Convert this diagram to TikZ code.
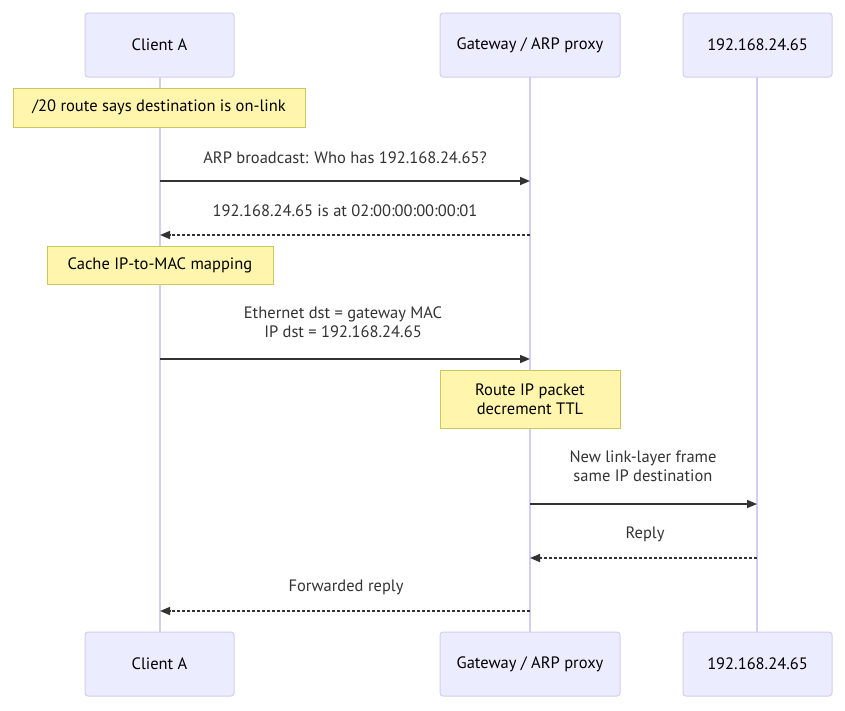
\documentclass[tikz,border=0pt]{standalone}
\usepackage{fontspec}
\setmainfont{PT Sans}
\usetikzlibrary{arrows.meta}
\definecolor{actfill}{HTML}{ECECFF}
\definecolor{actline}{HTML}{D5CCF2}
\definecolor{notefill}{HTML}{FFF5AD}
\definecolor{noteline}{HTML}{C8C85A}
\definecolor{txt}{HTML}{333333}
\tikzset{
  actor/.style={draw=actline, fill=actfill, rounded corners=3pt, line width=1pt,
    minimum width=#1, minimum height=64pt, inner sep=0pt, text=black, font=\fontsize{16.5}{19}\selectfont},
  note/.style={draw=noteline, fill=notefill, line width=1pt, minimum width=#1,
    inner sep=0pt, text=black, align=center, font=\fontsize{16.5}{19}\selectfont},
  lifeline/.style={draw=actline, line width=1.5pt},
  msg/.style={draw=txt, line width=1.5pt, -{Triangle[length=10pt,width=8pt]}},
  reply/.style={msg, dash pattern=on 3pt off 2pt},
  lbl/.style={text=txt, align=center, font=\fontsize{16.5}{19}\selectfont, inner sep=0pt},
}
\begin{document}
\begin{tikzpicture}[x=1pt,y=-1pt]
\useasboundingbox (0,0) rectangle (845,710);
% lifelines
\coordinate (ca1) at (160,77); \coordinate (ca2) at (160,632);
\coordinate (gw1) at (530,77); \coordinate (gw2) at (530,632);
\coordinate (ip1) at (757,77); \coordinate (ip2) at (757,632);
\draw[lifeline] (ca1) -- (ca2);
\draw[lifeline] (gw1) -- (gw2);
\draw[lifeline] (ip1) -- (ip2);
% actors
\node[actor=149pt] (caT) at (159.5,45) {Client A};
\node[actor=180pt] (gwT) at (530,45) {Gateway / ARP proxy};
\node[actor=149pt] (ipT) at (757.5,45) {192.168.24.65};
\node[actor=149pt] (caB) at (159.5,664) {Client A};
\node[actor=180pt] (gwB) at (530,664) {Gateway / ARP proxy};
\node[actor=149pt] (ipB) at (757.5,664) {192.168.24.65};
% note 1
\node[note=292pt, minimum height=39pt] (n1) at (159,107.5) {/20 route says destination is on-link};
% message 1
\coordinate (m1a) at (160,181); \coordinate (m1b) at (530,181);
\node[lbl] (l1) at (345,158) {ARP broadcast: Who has 192.168.24.65?};
\draw[msg] (m1a) -- (m1b);
% message 2
\coordinate (m2a) at (530,235); \coordinate (m2b) at (160,235);
\node[lbl] (l2) at (345,211) {192.168.24.65 is at 02:00:00:00:00:01};
\draw[reply] (m2a) -- (m2b);
% note 2
\node[note=226pt, minimum height=38pt] (n2) at (160,265) {Cache IP-to-MAC mapping};
% message 3
\coordinate (m3a) at (160,359); \coordinate (m3b) at (530,359);
\node[lbl] (l3) at (343,322.5) {Ethernet dst = gateway MAC\\IP dst = 192.168.24.65};
\draw[msg] (m3a) -- (m3b);
% note 3
\node[note=180pt, minimum height=58pt] (n3) at (530,399) {Route IP packet\\decrement TTL};
% message 4
\coordinate (m4a) at (530,504); \coordinate (m4b) at (757,504);
\node[lbl] (l4) at (643,466.5) {New link-layer frame\\same IP destination};
\draw[msg] (m4a) -- (m4b);
% message 5
\coordinate (m5a) at (757,558); \coordinate (m5b) at (530,558);
\node[lbl] (l5) at (645,534) {Reply};
\draw[reply] (m5a) -- (m5b);
% message 6
\coordinate (m6a) at (530,611); \coordinate (m6b) at (160,611);
\node[lbl] (l6) at (346,587) {Forwarded reply};
\draw[reply] (m6a) -- (m6b);
\end{tikzpicture}
\end{document}
